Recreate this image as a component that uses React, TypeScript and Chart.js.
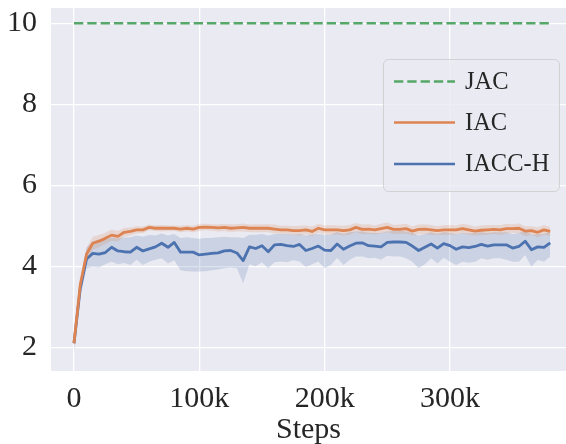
import React, { useEffect, useRef } from 'react';
import { Chart, registerables } from 'chart.js';

Chart.register(...registerables);

// Steps (in thousands)
const stepsK = [
  0, 5, 10, 15, 20, 25, 30, 35, 40, 45, 50, 55, 60, 65, 70, 75, 80, 85, 90, 95,
  100, 105, 110, 115, 120, 125, 130, 135, 140, 145, 150, 155, 160, 165, 170, 175, 180, 185, 190, 195,
  200, 205, 210, 215, 220, 225, 230, 235, 240, 245, 250, 255, 260, 265, 270, 275, 280, 285, 290, 295,
  300, 305, 310, 315, 320, 325, 330, 335, 340, 345, 350, 355, 360, 365, 370, 375, 380,
];

// JAC (constant reference line)
const jacStepsK = [0, 380];
const jacValues = [10, 10];

// IAC mean
const iacValues = [
  2.10, 3.55, 4.30, 4.57, 4.62, 4.69, 4.77, 4.74, 4.84, 4.86,
  4.90, 4.90, 4.96, 4.94, 4.94, 4.94, 4.94, 4.92, 4.94, 4.92,
  4.96, 4.97, 4.96, 4.95, 4.96, 4.94, 4.95, 4.96, 4.94, 4.94,
  4.94, 4.94, 4.92, 4.90, 4.90, 4.88, 4.88, 4.90, 4.86, 4.94,
  4.90, 4.90, 4.90, 4.88, 4.90, 4.96, 4.91, 4.92, 4.90, 4.93,
  4.96, 4.91, 4.91, 4.93, 4.87, 4.91, 4.92, 4.90, 4.88, 4.90,
  4.90, 4.90, 4.93, 4.90, 4.87, 4.89, 4.90, 4.91, 4.90, 4.93,
  4.93, 4.94, 4.87, 4.88, 4.84, 4.90, 4.86,
];

// IAC confidence half-width
const iacSpread = [
  0.06, 0.12, 0.16, 0.16, 0.15, 0.14, 0.14, 0.13, 0.11, 0.10,
  0.09, 0.08, 0.07, 0.07, 0.08, 0.07, 0.07, 0.08, 0.08, 0.08,
  0.09, 0.08, 0.08, 0.09, 0.09, 0.10, 0.09, 0.10, 0.09, 0.10,
  0.10, 0.10, 0.11, 0.10, 0.11, 0.11, 0.12, 0.11, 0.12, 0.11,
  0.11, 0.12, 0.11, 0.12, 0.12, 0.11, 0.12, 0.12, 0.11, 0.12,
  0.12, 0.11, 0.12, 0.12, 0.11, 0.12, 0.12, 0.12, 0.11, 0.12,
  0.12, 0.11, 0.12, 0.12, 0.11, 0.12, 0.12, 0.11, 0.12, 0.12,
  0.11, 0.12, 0.12, 0.11, 0.12, 0.12, 0.11,
];

// IACC-H mean
const iacchValues = [
  2.10, 3.45, 4.18, 4.32, 4.30, 4.34, 4.47, 4.38, 4.36, 4.35,
  4.47, 4.38, 4.43, 4.48, 4.57, 4.47, 4.59, 4.35, 4.35, 4.35,
  4.28, 4.30, 4.32, 4.33, 4.38, 4.39, 4.33, 4.14, 4.48, 4.44,
  4.51, 4.36, 4.53, 4.54, 4.51, 4.49, 4.54, 4.39, 4.44, 4.50,
  4.40, 4.39, 4.55, 4.42, 4.50, 4.57, 4.58, 4.51, 4.50, 4.48,
  4.59, 4.60, 4.60, 4.59, 4.50, 4.39, 4.47, 4.55, 4.45, 4.56,
  4.51, 4.42, 4.48, 4.46, 4.49, 4.54, 4.50, 4.53, 4.53, 4.53,
  4.45, 4.49, 4.62, 4.41, 4.48, 4.47, 4.58,
];

// IACC-H band upper / lower
const iacchUpper = [
  2.25, 3.65, 4.45, 4.61, 4.67, 4.67, 4.71, 4.69, 4.71, 4.72,
  4.76, 4.73, 4.77, 4.76, 4.81, 4.76, 4.80, 4.70, 4.72, 4.70,
  4.68, 4.70, 4.70, 4.72, 4.73, 4.72, 4.72, 4.70, 4.78, 4.78,
  4.80, 4.76, 4.80, 4.80, 4.80, 4.78, 4.80, 4.76, 4.78, 4.80,
  4.78, 4.78, 4.85, 4.80, 4.84, 4.86, 4.86, 4.83, 4.82, 4.82,
  4.86, 4.87, 4.87, 4.86, 4.82, 4.76, 4.80, 4.84, 4.80, 4.85,
  4.83, 4.79, 4.82, 4.81, 4.82, 4.84, 4.82, 4.84, 4.84, 4.84,
  4.80, 4.82, 4.88, 4.78, 4.80, 4.80, 4.86,
];
const iacchLower = [
  1.85, 3.25, 3.95, 3.99, 3.97, 4.05, 4.11, 4.05, 4.08, 4.03,
  4.16, 4.03, 4.11, 4.16, 4.20, 4.07, 4.15, 3.90, 3.88, 3.87,
  3.87, 3.88, 3.90, 3.92, 3.95, 3.97, 3.95, 3.58, 4.05, 4.00,
  4.10, 3.95, 4.10, 4.12, 4.10, 4.15, 4.12, 3.98, 4.05, 4.12,
  3.95, 4.03, 4.21, 4.03, 4.16, 4.24, 4.24, 4.20, 4.21, 4.16,
  4.26, 4.24, 4.24, 4.20, 4.11, 3.95, 4.05, 4.20, 4.07, 4.21,
  4.11, 4.03, 4.11, 4.09, 4.11, 4.20, 4.16, 4.20, 4.20, 4.16,
  4.11, 4.11, 4.28, 3.99, 4.16, 4.11, 4.24,
];

const yTickValues = [2, 4, 6, 8, 10];
const xTickValues = [0, 100000, 200000, 300000];
const xTickLabels = ['0', '100k', '200k', '300k'];

const legendLabels = ['JAC', 'IAC', 'IACC-H'];

const BLUE = '#4C72B0';
const ORANGE = '#DD8452';
const GREEN = '#55A868';
const BG = '#EAEAF2';
const TEXT = '#262626';
const FONT = '"Liberation Serif", "Times New Roman", Times, serif';

export default function App() {
  const ref = useRef<HTMLCanvasElement>(null);

  useEffect(() => {
    const canvas = ref.current;
    if (!canvas) return;
    const pts = (ys: number[], xs: number[] = stepsK) => ys.map((y, i) => ({ x: xs[i] * 1000, y }));

    const bgPlugin = {
      id: 'bgPlugin',
      beforeDraw(c: any) {
        const { ctx, chartArea: a } = c;
        ctx.save();
        ctx.fillStyle = BG;
        ctx.fillRect(a.left, a.top, a.right - a.left, a.bottom - a.top);
        ctx.restore();
      },
    };

    const legendPlugin = {
      id: 'legendBox',
      afterDraw(c: any) {
        const { ctx } = c;
        ctx.save();
        const x0 = 383.5, y0 = 59.5, w = 176, h = 132, r = 5;
        ctx.beginPath();
        ctx.roundRect(x0, y0, w, h, r);
        ctx.fillStyle = 'rgba(234,234,242,0.8)';
        ctx.fill();
        ctx.strokeStyle = 'rgba(204,204,204,0.8)';
        ctx.lineWidth = 1;
        ctx.stroke();
        const rows = [
          { y: 81.5, color: GREEN, dash: [9.3, 4] },
          { y: 122.5, color: ORANGE, dash: [] },
          { y: 164, color: BLUE, dash: [] },
        ];
        rows.forEach((row, i) => {
          ctx.beginPath();
          ctx.setLineDash(row.dash);
          ctx.lineCap = 'butt';
          ctx.strokeStyle = row.color;
          ctx.lineWidth = 2.6;
          ctx.moveTo(394, row.y);
          ctx.lineTo(455, row.y);
          ctx.stroke();
          ctx.setLineDash([]);
          ctx.fillStyle = TEXT;
          ctx.font = `24.5px ${FONT}`;
          ctx.textAlign = 'left';
          ctx.textBaseline = 'middle';
          ctx.fillText(legendLabels[i], 465, row.y + 1);
        });
        ctx.restore();
      },
    };

    const zeroPad = (scale: any) => {
      scale.paddingTop = 0;
      scale.paddingBottom = 0;
      scale.paddingLeft = 0;
      scale.paddingRight = 0;
    };

    const chart = new Chart(canvas, {
      type: 'line',
      data: {
        datasets: [
          {
            label: 'JAC',
            data: pts(jacValues, jacStepsK),
            borderColor: GREEN,
            borderWidth: 2.6,
            borderDash: [9.3, 4],
            borderCapStyle: 'butt',
            pointRadius: 0,
            fill: false,
          },
          {
            label: 'IAC',
            data: pts(iacValues),
            borderColor: ORANGE,
            borderWidth: 2.8,
            borderJoinStyle: 'round',
            pointRadius: 0,
            fill: false,
          },
          {
            label: 'IAC upper',
            data: pts(iacValues.map((v, i) => v + iacSpread[i])),
            borderWidth: 0,
            borderColor: 'transparent',
            backgroundColor: 'rgba(221,132,82,0.2)',
            pointRadius: 0,
            fill: '+1',
          },
          {
            label: 'IAC lower',
            data: pts(iacValues.map((v, i) => v - iacSpread[i])),
            borderWidth: 0,
            borderColor: 'transparent',
            pointRadius: 0,
            fill: false,
          },
          {
            label: 'IACC-H',
            data: pts(iacchValues),
            borderColor: BLUE,
            borderWidth: 2.8,
            borderJoinStyle: 'round',
            pointRadius: 0,
            fill: false,
          },
          {
            label: 'IACC-H upper',
            data: pts(iacchUpper),
            borderWidth: 0,
            borderColor: 'transparent',
            backgroundColor: 'rgba(76,114,176,0.2)',
            pointRadius: 0,
            fill: '+1',
          },
          {
            label: 'IACC-H lower',
            data: pts(iacchLower),
            borderWidth: 0,
            borderColor: 'transparent',
            pointRadius: 0,
            fill: false,
          },
        ],
      },
      options: {
        responsive: false,
        devicePixelRatio: 1,
        animation: false,
        layout: { padding: { top: 8, left: 0, right: 0, bottom: 0 } },
        elements: { line: { tension: 0 } },
        plugins: {
          legend: { display: false },
          tooltip: { enabled: false },
        },
        scales: {
          x: {
            type: 'linear',
            min: -18350,
            max: 392600,
            afterBuildTicks(scale: any) {
              scale.ticks = xTickValues.map((v) => ({ value: v }));
            },
            afterFit(scale: any) {
              scale.height = 73;
              zeroPad(scale);
            },
            grid: { color: '#ffffff', lineWidth: 1.3, drawTicks: false },
            border: { display: false },
            ticks: {
              autoSkip: false,
              maxRotation: 0,
              padding: 10,
              color: TEXT,
              font: { family: FONT, size: 30 },
              callback: (value: any) => {
                const idx = xTickValues.indexOf(Number(value));
                return idx >= 0 ? xTickLabels[idx] : '';
              },
            },
            title: {
              display: true,
              text: 'Steps',
              color: TEXT,
              font: { family: FONT, size: 30, lineHeight: 0.9 },
              padding: { top: 0, bottom: 0 },
            },
          },
          y: {
            type: 'linear',
            min: 1.415,
            max: 10.378,
            afterBuildTicks(scale: any) {
              scale.ticks = yTickValues.map((v) => ({ value: v }));
            },
            afterFit(scale: any) {
              scale.width = 51;
              zeroPad(scale);
            },
            grid: { color: '#ffffff', lineWidth: 1.3, drawTicks: false },
            border: { display: false },
            ticks: {
              padding: 14,
              color: TEXT,
              font: { family: FONT, size: 30 },
              callback: (value: any) => String(value),
            },
          },
        },
      },
      plugins: [bgPlugin, legendPlugin],
    } as any);

    return () => chart.destroy();
  }, []);

  return (
    <div style={{ position: 'fixed', left: 0, top: 0, width: 566, height: 444, background: '#ffffff' }}>
      <canvas ref={ref} width={566} height={444} style={{ width: 566, height: 444, display: 'block' }} />
    </div>
  );
}
